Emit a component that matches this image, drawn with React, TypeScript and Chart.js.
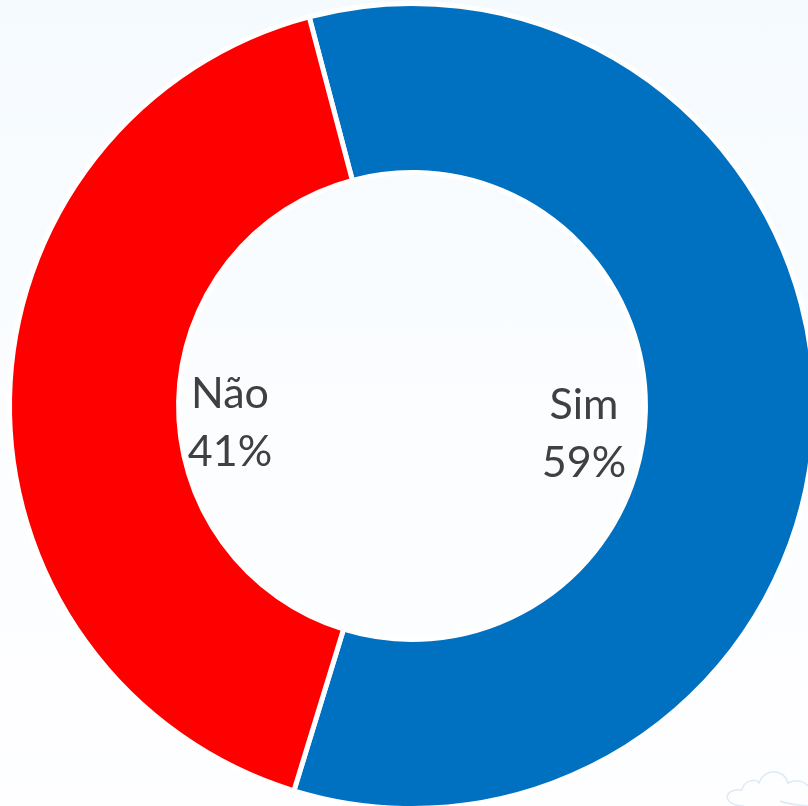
import React, { useEffect, useRef } from "react";
import { Chart, registerables } from "chart.js";

Chart.register(...registerables);

const categories = ["Sim", "Não"];
const values = [58.85, 41.15];
const colors = ["#0070C0", "#FF0000"];

const labelPlugin = {
  id: "sliceLabels",
  afterDatasetsDraw(chart: any) {
    const { ctx } = chart;
    const arcs = chart.getDatasetMeta(0).data;
    const offsets = [
      [172, 28],
      [-182, 17],
    ];
    ctx.save();
    ctx.font = '43px Lato, "Open Sans", sans-serif';
    ctx.fillStyle = "#404040";
    ctx.textAlign = "center";
    ctx.textBaseline = "middle";
    arcs.forEach((arc: any, i: number) => {
      const x = arc.x + offsets[i][0];
      const y = arc.y + offsets[i][1];
      ctx.fillText(categories[i], x, y - 29);
      ctx.fillText(`${Math.round(values[i])}%`, x, y + 29);
    });
    ctx.restore();
  },
};

export default function App() {
  const ref = useRef<HTMLCanvasElement>(null);
  useEffect(() => {
    document.body.style.margin = "0";
    const chart = new Chart(ref.current!, {
      type: "doughnut",
      data: {
        labels: categories,
        datasets: [
          {
            data: values,
            backgroundColor: colors,
            borderColor: "#FFFFFF",
            borderWidth: 5,
            borderAlign: "center",
          },
        ],
      },
      options: {
        responsive: false,
        animation: false,
        rotation: -14.8,
        cutout: "58%",
        layout: { padding: { left: 2, right: 2, top: 1, bottom: 1 } },
        plugins: { legend: { display: false }, tooltip: { enabled: false } },
      },
      plugins: [labelPlugin],
    });
    return () => chart.destroy();
  }, []);
  return (
    <div
      style={{
        position: "relative",
        width: 808,
        height: 806,
        overflow: "hidden",
        background: "linear-gradient(180deg, #F5FAFE 0%, #FBFDFF 50%, #FEFEFF 100%)",
      }}
    >
      <canvas ref={ref} width={824} height={812} style={{ display: "block" }} />
      <svg
        width={808}
        height={806}
        style={{ position: "absolute", left: 0, top: 0, pointerEvents: "none" }}
      >
        <path
          d="M744 806 C 722 806, 722 788, 742 790 C 744 780, 756 778, 759 783 C 764 768, 784 768, 788 783 C 796 779, 804 781, 808 786 M 780 801 C 790 805, 800 805, 808 806"
          fill="none"
          stroke="#DCEAF6"
          strokeWidth={1.5}
        />
      </svg>
    </div>
  );
}
